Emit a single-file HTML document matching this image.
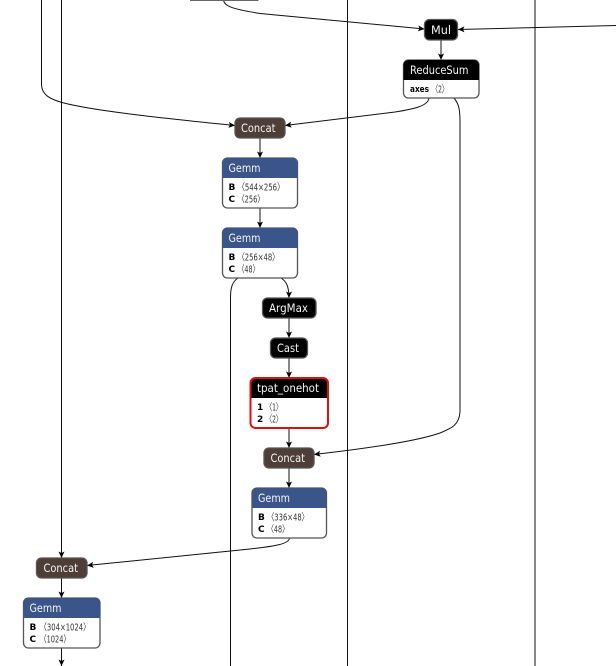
<!DOCTYPE html>
<html><head><meta charset="utf-8"><style>
html,body{margin:0;padding:0;background:#fff}
svg{display:block}
text{font-family:"DejaVu Sans","Liberation Sans",sans-serif}
.h{font-size:11.5px;fill:#f4f4f4}
.a{font-size:10px;fill:#333}
.b{font-size:9px;fill:#000;font-weight:bold}
.l{fill:none;stroke:#111;stroke-width:1}
.n{stroke:#555;stroke-width:1.3}
</style></head><body>
<svg width="616" height="666" viewBox="0 0 616 666" xmlns="http://www.w3.org/2000/svg">
<defs><marker id="m" markerWidth="7" markerHeight="7" refX="6.500" refY="3.500" orient="auto" markerUnits="userSpaceOnUse"><path d="M0 0.500L6.500 3.500L0 6.500L1.500 3.500Z" fill="#000"/></marker></defs>

<path class="l" d="M61.500 0V558" marker-end="url(#m)"/>
<path class="l" d="M347.500 0V666"/>
<path class="l" d="M535 0V666"/>
<path class="l" d="M41.500 0V85C42 95 50 99 62 102.500C90 110 150 117 235 125.500" marker-end="url(#m)"/>
<path class="l" d="M223.500 0C224 6 232 9 260 13.500L424.500 29" marker-end="url(#m)"/>
<path class="l" d="M616 25.500L458 29.500" marker-end="url(#m)"/>
<path class="l" d="M441 40V60" marker-end="url(#m)"/>
<path class="l" d="M429 98C428 106 414 109 395 112L285 125.500" marker-end="url(#m)"/>
<path class="l" d="M454 98C459 104 460 110 460 122V412C459 425 452 428 440 433C420 440 380 447 314 454.500" marker-end="url(#m)"/>
<path class="l" d="M260 138V158" marker-end="url(#m)"/>
<path class="l" d="M260 208V228" marker-end="url(#m)"/>
<path class="l" d="M238 278C232 282 230.500 288 230.500 298V666"/>
<path class="l" d="M281 278C286 281 289 286 289 298" marker-end="url(#m)"/>
<path class="l" d="M289 318V338" marker-end="url(#m)"/>
<path class="l" d="M289 358V378" marker-end="url(#m)"/>
<path class="l" d="M289 428V448" marker-end="url(#m)"/>
<path class="l" d="M289 468V488" marker-end="url(#m)"/>
<path class="l" d="M289.500 538C289 544 276 546 250 549L87 565.500" marker-end="url(#m)"/>
<path class="l" d="M61.500 578V598" marker-end="url(#m)"/>
<path class="l" d="M61.500 648V666" marker-end="url(#m)"/>

<!-- Mul -->
<rect class="n" x="424.500" y="19.500" width="33" height="20.500" rx="5" fill="#000"/>
<text class="h" x="431" y="34" textLength="20" lengthAdjust="spacingAndGlyphs">Mul</text>

<!-- ReduceSum -->
<rect x="403.500" y="60" width="75.500" height="38" rx="5" fill="#fff" class="n"/>
<path d="M403.500 80V65a5 5 0 0 1 5-5H474a5 5 0 0 1 5 5V80Z" fill="#000"/>
<text class="h" x="410" y="74" textLength="58.500" lengthAdjust="spacingAndGlyphs">ReduceSum</text>
<text class="b" x="410" y="92" textLength="19" lengthAdjust="spacingAndGlyphs">axes</text>
<text class="a" x="432" y="92.500" textLength="16" lengthAdjust="spacingAndGlyphs">〈2〉</text>

<!-- Concat 1 -->
<rect class="n" x="235" y="118" width="50" height="20" rx="5" fill="#4e3e37"/>
<text class="h" x="241" y="132" textLength="34.500" lengthAdjust="spacingAndGlyphs">Concat</text>

<!-- Gemm 1 -->
<rect x="222.500" y="158" width="75" height="50" rx="5" fill="#fff" class="n"/>
<path d="M222.500 178V163a5 5 0 0 1 5-5H292.500a5 5 0 0 1 5 5V178Z" fill="#39558a"/>
<text class="h" x="228.500" y="172" textLength="32" lengthAdjust="spacingAndGlyphs">Gemm</text>
<text class="b" x="228.500" y="190">B</text><text class="a" x="238" y="190.500" textLength="46" lengthAdjust="spacingAndGlyphs">〈544×256〉</text>
<text class="b" x="228.500" y="202">C</text><text class="a" x="238" y="202.500" textLength="26" lengthAdjust="spacingAndGlyphs">〈256〉</text>

<!-- Gemm 2 -->
<rect x="222.500" y="228" width="75" height="50" rx="5" fill="#fff" class="n"/>
<path d="M222.500 248V233a5 5 0 0 1 5-5H292.500a5 5 0 0 1 5 5V248Z" fill="#39558a"/>
<text class="h" x="228.500" y="242" textLength="32" lengthAdjust="spacingAndGlyphs">Gemm</text>
<text class="b" x="228.500" y="260">B</text><text class="a" x="238" y="260.500" textLength="41" lengthAdjust="spacingAndGlyphs">〈256×48〉</text>
<text class="b" x="228.500" y="272">C</text><text class="a" x="238" y="272.500" textLength="21" lengthAdjust="spacingAndGlyphs">〈48〉</text>

<!-- ArgMax -->
<rect class="n" x="262.500" y="298" width="53.500" height="20" rx="5" fill="#000"/>
<text class="h" x="269" y="312" textLength="39" lengthAdjust="spacingAndGlyphs">ArgMax</text>

<!-- Cast -->
<rect class="n" x="270.500" y="338" width="37" height="20" rx="5" fill="#000"/>
<text class="h" x="277" y="352" textLength="22" lengthAdjust="spacingAndGlyphs">Cast</text>

<!-- tpat_onehot -->
<rect x="250.500" y="378" width="77.500" height="50" rx="5" fill="#fff"/>
<path d="M250.500 398V383a5 5 0 0 1 5-5H323a5 5 0 0 1 5 5V398Z" fill="#000"/>
<rect x="250.500" y="378" width="77.500" height="50" rx="5" fill="none" stroke="#e01010" stroke-width="2"/>
<text class="h" x="257" y="392" textLength="62" lengthAdjust="spacingAndGlyphs">tpat_onehot</text>
<text class="b" x="257" y="410">1</text><text class="a" x="266" y="410.500" textLength="16" lengthAdjust="spacingAndGlyphs">〈1〉</text>
<text class="b" x="257" y="422">2</text><text class="a" x="266" y="422.500" textLength="16" lengthAdjust="spacingAndGlyphs">〈2〉</text>

<!-- Concat 2 -->
<rect class="n" x="264" y="448" width="50" height="20" rx="5" fill="#4e3e37"/>
<text class="h" x="270.500" y="462" textLength="34.500" lengthAdjust="spacingAndGlyphs">Concat</text>

<!-- Gemm 3 -->
<rect x="252" y="488" width="74.500" height="50" rx="5" fill="#fff" class="n"/>
<path d="M252 508V493a5 5 0 0 1 5-5H321.500a5 5 0 0 1 5 5V508Z" fill="#39558a"/>
<text class="h" x="258" y="502" textLength="32" lengthAdjust="spacingAndGlyphs">Gemm</text>
<text class="b" x="258" y="520">B</text><text class="a" x="267.500" y="520.500" textLength="41" lengthAdjust="spacingAndGlyphs">〈336×48〉</text>
<text class="b" x="258" y="532">C</text><text class="a" x="267.500" y="532.500" textLength="21" lengthAdjust="spacingAndGlyphs">〈48〉</text>

<!-- Concat 3 -->
<rect class="n" x="36.500" y="558" width="50.500" height="20" rx="5" fill="#4e3e37"/>
<text class="h" x="43.500" y="572" textLength="34.500" lengthAdjust="spacingAndGlyphs">Concat</text>

<!-- Gemm 4 -->
<rect x="23.500" y="598" width="76.500" height="50" rx="5" fill="#fff" class="n"/>
<path d="M23.500 618V603a5 5 0 0 1 5-5H95a5 5 0 0 1 5 5V618Z" fill="#39558a"/>
<text class="h" x="29.500" y="612" textLength="32" lengthAdjust="spacingAndGlyphs">Gemm</text>
<text class="b" x="29.500" y="630">B</text><text class="a" x="40" y="630.500" textLength="50" lengthAdjust="spacingAndGlyphs">〈304×1024〉</text>
<text class="b" x="29.500" y="642">C</text><text class="a" x="40" y="642.500" textLength="30" lengthAdjust="spacingAndGlyphs">〈1024〉</text>

<!-- top partial node -->
<path d="M190 0.500H258.500" stroke="#666" stroke-width="1" fill="none"/>
</svg>
</body></html>
